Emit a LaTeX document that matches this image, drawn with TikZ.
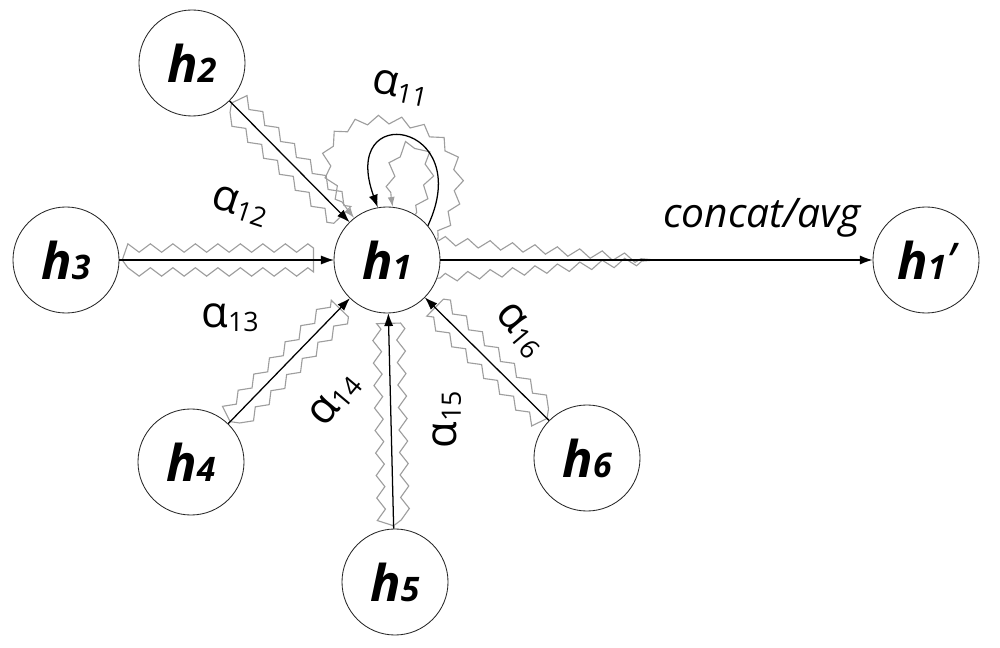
\documentclass[tikz,border=0pt]{standalone}
\usepackage{fontspec}
\setmainfont{Open Sans}
\usepackage{tikz}
\usetikzlibrary{arrows.meta,decorations.pathmorphing,positioning}

\newcommand{\hlab}[1]{\fontsize{36}{40}\selectfont\bfseries\itshape h{\fontsize{24}{26}\selectfont #1}}
\newcommand{\alab}[1]{\fontsize{31}{34}\selectfont α{\fontsize{19}{22}\selectfont\raisebox{-3pt}{#1}}}

\begin{document}
\begin{tikzpicture}[
    x=0.025cm, y=-0.025cm,
    unit/.style={circle, draw=black!85, line width=0.6pt, minimum size=2.65cm, inner sep=0pt},
    edge/.style={draw=black, line width=0.9pt, -{Latex[length=9pt,width=6.5pt]}},
    zz/.style={draw=black!38, line width=0.8pt, decorate, decoration={zigzag, segment length=16pt, amplitude=3pt, pre length=2pt, post length=7pt}, -{Latex[length=7pt,width=5pt]}},
    lab/.style={inner sep=1pt}
]
\useasboundingbox (0,0) rectangle (1000,648);

% Nodes
\node[unit] (h1) at (387,260) {\hlab{1}};
\node[unit] (h2) at (192,63) {\hlab{2}};
\node[unit] (h3) at (66,260) {\hlab{3}};
\node[unit] (h4) at (191,462) {\hlab{4}};
\node[unit] (h5) at (395,582) {\hlab{5}};
\node[unit] (h6) at (587,458) {\hlab{6}};
\node[unit] (h1p) at (926,260) {\hlab{1}{\mdseries’}};

% Neighbour edges
\foreach \src in {h2,h3,h4,h5,h6}{
    \draw[zz, decoration={raise=8.5pt}] (\src) -- (h1);
    \draw[zz, decoration={raise=-8.5pt}] (\src) -- (h1);
    \draw[edge] (\src) -- (h1);
}

% Self loop
\draw[zz] (h1.22) to[out=55, in=130, looseness=5.5] (h1.128);
\draw[zz] (h1.58) to[out=60, in=100, looseness=10] (h1.84);
\draw[edge] (h1.40) to[out=65, in=110, looseness=5.5] (h1.100);

% Output
\coordinate (merge) at (655,260);
\draw[zz, -] (h1.22) -- (merge);
\draw[zz, -] (h1.-20) -- (merge);
\draw[edge] (h1) -- (h1p);

% Labels
\node[lab, rotate=-12] (a11) at (400,88) {\alab{11}};
\node[lab, rotate=-18] (a12) at (240,206) {\alab{12}};
\node[lab] (a13) at (230,318) {\alab{13}};
\node[lab, rotate=50] (a14) at (335,400) {\alab{14}};
\node[lab, rotate=90] (a15) at (447,420) {\alab{15}};
\node[lab, rotate=-50] (a16) at (520,330) {\alab{16}};
\node[lab, font=\fontsize{29}{32}\selectfont\itshape] (cat) at (762,218) {concat/avg};

\end{tikzpicture}
\end{document}
